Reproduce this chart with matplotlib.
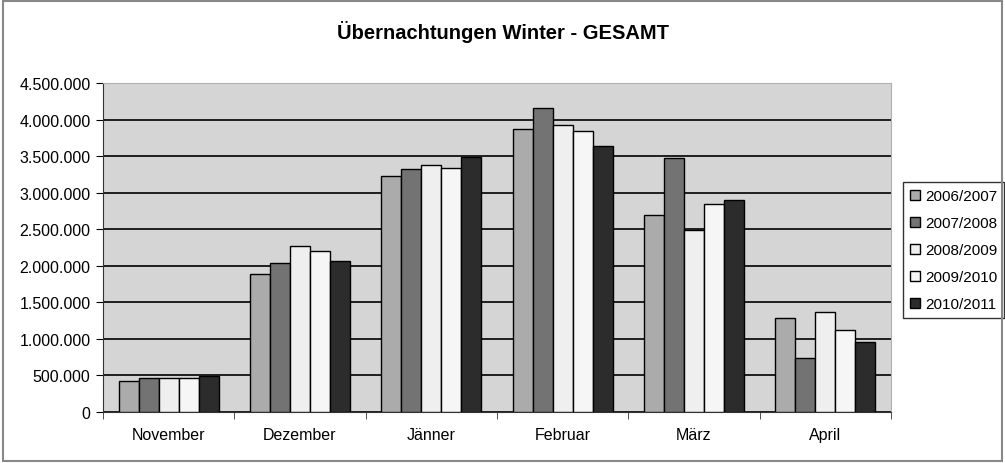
import numpy as np
import matplotlib.pyplot as plt
import matplotlib.ticker as ticker
from matplotlib.patches import Rectangle

months = ["November", "Dezember", "Jänner", "Februar", "März", "April"]
seasons = ["2006/2007", "2007/2008", "2008/2009", "2009/2010", "2010/2011"]
s2006 = [424000, 1883000, 3223000, 3866000, 2694000, 1290000]
s2007 = [470000, 2033000, 3324000, 4153000, 3479000, 743000]
s2008 = [465000, 2275000, 3374000, 3930000, 2489000, 1368000]
s2009 = [465000, 2202000, 3337000, 3848000, 2849000, 1117000]
s2010 = [490000, 2070000, 3483000, 3643000, 2900000, 962000]
colors = ["#ababab", "#737373", "#efefef", "#f6f6f6", "#2c2c2c"]

plt.rcParams["font.family"] = ["Liberation Sans", "DejaVu Sans"]

fig = plt.figure(figsize=(10.05, 4.64), dpi=100)
ax = fig.add_axes([0.1025, 0.110, 0.784, 0.709])
ax.set_facecolor("#d5d5d5")

x = np.arange(len(months))
w = 0.152
series = [s2006, s2007, s2008, s2009, s2010]
for i, (vals, lab, col) in enumerate(zip(series, seasons, colors)):
    ax.bar(x + (i - 2) * w, vals, w, color=col, edgecolor="black",
           linewidth=1.0, label=lab, zorder=3)

ax.set_xlim(-0.5, len(months) - 0.5)
ax.set_ylim(0, 4500000)
ax.yaxis.set_major_locator(ticker.MultipleLocator(500000))
ax.yaxis.set_major_formatter(ticker.FuncFormatter(lambda v, p: f"{int(v):,}".replace(",", ".")))
ax.grid(axis="y", color="black", linewidth=1.2, zorder=1)
ax.set_axisbelow(True)

ax.set_xticks(x)
ax.set_xticklabels(months)
ax.set_xticks(np.arange(-0.5, len(months)), minor=True)
ax.tick_params(axis="x", which="major", length=0, pad=11, labelsize=11.5)
ax.tick_params(axis="x", which="minor", length=5, direction="out", color="#333333")
ax.tick_params(axis="y", length=5, direction="out", labelsize=11.5, pad=4)

for side in ["top", "right"]:
    ax.spines[side].set_color("#b0b0b0")
ax.spines["left"].set_color("#333333")
ax.spines["bottom"].set_color("#333333")

fig.text(0.5, 0.93, "Übernachtungen Winter - GESAMT", ha="center", va="center",
         fontsize=14.5, fontweight="bold")

leg = ax.legend(loc="upper left", bbox_to_anchor=(0.899, 0.605), bbox_transform=fig.transFigure,
                frameon=True, fancybox=False, edgecolor="black", fontsize=11,
                handlelength=0.65, handleheight=0.65, handletextpad=0.3,
                borderpad=0.45, labelspacing=0.85, borderaxespad=0)
leg.get_frame().set_linewidth(1.0)

fig.patches.append(Rectangle((0.003, 0.005), 0.994, 0.99, transform=fig.transFigure,
                             fill=False, edgecolor="#888888", linewidth=1.5))

fig.savefig("out.png", dpi=100)
